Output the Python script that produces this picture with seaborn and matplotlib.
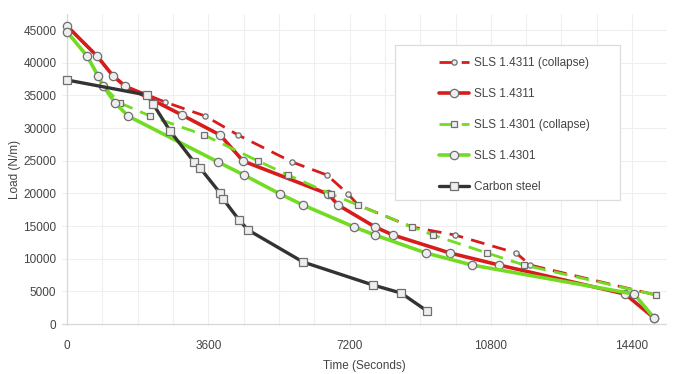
import matplotlib
matplotlib.use("Agg")
import matplotlib.pyplot as plt
import pandas as pd
import seaborn as sns
from matplotlib.patches import Rectangle

# values (time in s, load in N/m)
sls4311_collapse_t = [0, 765, 1173, 1478, 2498, 3518, 4359, 5735, 6627, 7163, 7418, 8794, 9890, 11445, 11802, 15014]
sls4311_collapse_y = [45600, 41000, 37960, 36430, 33980, 31840, 28930, 24800, 22800, 19900, 18210, 14850, 13620, 10870, 9030, 4440]

sls4311_t = [0, 765, 1173, 1478, 2931, 3900, 4486, 6653, 6908, 7851, 8310, 9763, 11012, 14223, 14963]
sls4311_y = [45600, 41000, 37960, 36430, 31990, 28930, 24950, 19900, 18210, 14850, 13620, 10870, 9030, 4590, 920]

sls4301_collapse_t = [0, 510, 790, 918, 1351, 2116, 3492, 4869, 5633, 6730, 7418, 8794, 9329, 10706, 11649, 15014]
sls4301_collapse_y = [44700, 41020, 37960, 36430, 33830, 31840, 28930, 24950, 22810, 19900, 18210, 14850, 13620, 10870, 9030, 4440]

sls4301_t = [0, 510, 790, 918, 1224, 1555, 3849, 4512, 5430, 6016, 7316, 7851, 9151, 10324, 14453, 14963]
sls4301_y = [44700, 41020, 37960, 36430, 33830, 31840, 24800, 22800, 19900, 18210, 14850, 13620, 10870, 9030, 4590, 920]

carbon_t = [0, 2039, 2192, 2625, 3237, 3390, 3900, 3977, 4384, 4614, 6016, 7800, 8514, 9176]
carbon_y = [37350, 35050, 33670, 29540, 24800, 23880, 20050, 19130, 15920, 14390, 9490, 5970, 4740, 1990]

x_ticks = [0, 3600, 7200, 10800, 14400]
y_ticks = list(range(0, 45001, 5000))

RED = "#d81c1c"
GREEN = "#72dc22"
DARK = "#333333"

series = [
    ("SLS 1.4311 (collapse)", sls4311_collapse_t, sls4311_collapse_y, RED, (5, 3), "o", 3.8, 2.0),
    ("SLS 1.4311", sls4311_t, sls4311_y, RED, "", "o", 6, 2.6),
    ("SLS 1.4301 (collapse)", sls4301_collapse_t, sls4301_collapse_y, GREEN, (5, 3), "s", 3.8, 2.0),
    ("SLS 1.4301", sls4301_t, sls4301_y, GREEN, "", "o", 6, 2.6),
    ("Carbon steel", carbon_t, carbon_y, DARK, "", "s", 6, 2.4),
]

sns.set_theme(style="white")
plt.rcParams["font.family"] = ["Liberation Sans", "DejaVu Sans"]

fig = plt.figure(figsize=(6.9, 3.74), dpi=100)
ax = fig.add_axes([0.0899, 0.1283, 0.8768, 0.835])

for label, t, y, color, dashes, marker, ms, lw in series:
    df = pd.DataFrame({"Time": t, "Load": y})
    line = sns.lineplot(
        data=df, x="Time", y="Load", ax=ax, sort=False, estimator=None,
        color=color, marker=marker, markersize=ms, linewidth=lw,
        markerfacecolor="#eeeeee", markeredgecolor="#6f6f6f", markeredgewidth=0.9,
        label=label,
    ).lines[-1]
    if dashes:
        line.set_dashes(dashes)

ax.set_xlim(-130, 15290)
ax.set_ylim(-300, 47500)
ax.set_xticks(x_ticks)
ax.set_yticks(y_ticks)
ax.set_xticks(range(0, 15300, 900), minor=True)
ax.grid(True, which="both", axis="x", color="#efefef", linewidth=0.8)
ax.grid(True, which="major", axis="y", color="#efefef", linewidth=0.8)
ax.axvline(0, color="#d8d8d8", linewidth=0.9, zorder=1)
ax.axhline(0, color="#d8d8d8", linewidth=0.9, zorder=1)
for s in ax.spines.values():
    s.set_visible(False)
ax.tick_params(axis="both", which="both", length=0, labelsize=8.5, labelcolor="#444444")
ax.tick_params(axis="x", pad=10)
ax.tick_params(axis="y", pad=4)
ax.set_xlabel("Time (Seconds)", fontsize=8.5, color="#444444", labelpad=6)
ax.set_ylabel("Load (N/m)", fontsize=8.5, color="#444444", labelpad=2)

ax.add_patch(Rectangle((0.55, 0.403), 0.372, 0.497, transform=ax.transAxes,
                       facecolor="white", edgecolor="#dddddd", linewidth=0.9, zorder=3))
leg = ax.legend(loc="upper left", bbox_to_anchor=(0.607, 0.892), frameon=False,
                fontsize=8.5, labelspacing=1.62, handlelength=2.6, handletextpad=0.4,
                borderpad=0.3, labelcolor="#444444")
leg.set_zorder(4)

fig.savefig("out.png", dpi=100)
